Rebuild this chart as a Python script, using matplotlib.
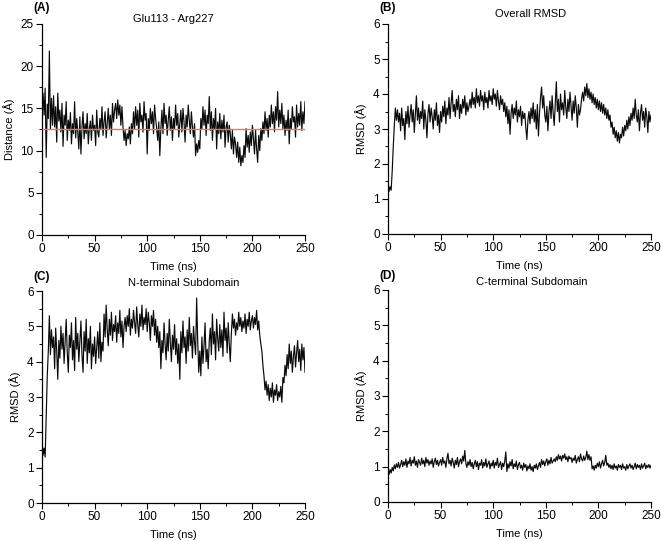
import numpy as np
import matplotlib
matplotlib.use("Agg")
import matplotlib.pyplot as plt
from matplotlib.ticker import MultipleLocator

plt.rcParams['font.family'] = ['Liberation Sans', 'DejaVu Sans']

W, H = 661, 541

# tiempo (ns), una lectura por ns
time_ns = list(range(0, 251))

# (A) distancia Glu113 - Arg227 (Å)
dist_glu_arg = [
    15.0, 16.8, 14.2, 17.4, 9.2, 15.5, 13.8, 21.8, 12.5, 16.2,
    13.0, 16.5, 12.8, 15.2, 11.0, 16.8, 13.5, 14.8, 12.2, 15.6,
    10.5, 14.2, 13.0, 15.8, 11.2, 13.6, 12.4, 14.5, 10.8, 13.2,
    12.0, 15.8, 11.5, 13.8, 12.2, 10.2, 14.0, 9.6, 12.8, 14.6,
    11.4, 13.2, 12.0, 14.4, 10.8, 12.6, 13.5, 11.2, 14.2, 12.4,
    13.0, 10.6, 14.8, 12.2, 11.6, 13.8, 12.5, 15.2, 11.8, 13.4,
    14.6, 11.5, 13.2, 15.0, 12.6, 14.2, 11.8, 15.6, 13.4, 14.8,
    15.6, 13.8, 16.0, 14.2, 15.4, 13.0, 15.2, 12.8, 11.2, 12.4,
    10.6, 12.0, 11.4, 12.8, 10.8, 13.2, 12.0, 14.6, 12.6, 15.2,
    13.0, 14.8, 11.6, 15.6, 13.4, 14.2, 12.2, 15.8, 13.6, 14.4,
    9.6, 13.8, 12.4, 15.0, 13.2, 14.6, 12.0, 15.4, 13.8, 12.6,
    11.2, 13.4, 9.4, 12.6, 14.8, 12.0, 15.6, 13.2, 14.2, 11.8,
    13.6, 15.2, 12.4, 14.0, 11.2, 13.8, 12.6, 15.4, 13.0, 14.4,
    11.6, 13.2, 14.8, 12.2, 15.0, 13.4, 11.0, 14.2, 12.8, 15.4,
    13.6, 12.0, 14.6, 12.8, 11.6, 13.2, 9.4, 10.8, 9.8, 11.2,
    10.2, 13.8, 12.6, 15.2, 13.0, 14.8, 11.8, 14.2, 13.2, 16.4,
    12.4, 14.6, 11.2, 13.8, 12.6, 15.0, 10.2, 13.4, 12.0, 14.4,
    11.4, 13.6, 12.2, 14.2, 10.4, 12.8, 13.4, 11.0, 13.0, 12.0,
    10.2, 12.4, 9.6, 11.6, 10.8, 9.2, 11.0, 8.6, 10.4, 8.2,
    9.4, 8.6, 10.6, 9.2, 12.6, 10.4, 11.8, 9.8, 12.2, 10.6,
    13.0, 11.4, 9.6, 12.4, 10.2, 8.6, 11.8, 10.0, 12.6, 11.2,
    13.4, 12.0, 14.6, 12.4, 13.8, 11.6, 14.2, 12.8, 15.4, 13.2,
    14.6, 12.2, 15.2, 13.6, 17.0, 12.8, 14.8, 13.2, 15.6, 12.6,
    14.2, 11.8, 13.6, 12.4, 14.8, 10.8, 13.8, 12.6, 15.2, 13.4,
    14.0, 11.6, 15.4, 12.8, 14.4, 13.0, 15.8, 12.4, 14.6, 13.2,
    15.8,
]
dist_mean = 12.5

# (B) RMSD global (Å)
rmsd_overall = [
    1.50, 1.22, 1.35, 1.25, 1.80, 2.50, 3.10, 3.60, 3.25, 3.55,
    3.20, 3.45, 2.95, 3.60, 3.10, 3.30, 2.70, 3.50, 3.15, 3.65,
    3.05, 3.40, 3.70, 3.20, 3.55, 2.90, 3.45, 3.95, 3.25, 3.60,
    3.15, 3.50, 3.30, 3.80, 3.00, 3.55, 3.25, 2.75, 3.45, 3.70,
    3.20, 3.60, 3.35, 3.00, 3.55, 3.25, 3.75, 3.10, 3.40, 2.90,
    3.50, 3.20, 3.65, 3.35, 3.80, 3.15, 3.60, 3.40, 3.90, 3.30,
    3.75, 4.10, 3.50, 3.70, 3.35, 3.85, 3.55, 3.95, 3.30, 3.70,
    3.45, 3.85, 3.60, 3.95, 3.40, 3.75, 3.50, 3.65, 3.85, 3.60,
    4.05, 3.70, 3.90, 3.60, 4.15, 3.75, 3.95, 3.65, 4.10, 3.80,
    3.95, 3.55, 4.05, 3.75, 3.90, 3.60, 4.10, 3.80, 3.95, 3.70,
    4.15, 3.85, 4.00, 3.65, 4.10, 3.80, 3.55, 3.95, 3.70, 3.85,
    3.50, 3.75, 3.35, 3.65, 3.15, 3.55, 2.85, 3.45, 3.70, 3.30,
    3.60, 3.40, 3.80, 3.20, 3.55, 3.35, 3.65, 3.10, 3.50, 3.30,
    3.45, 3.05, 2.70, 3.25, 3.50, 3.15, 3.60, 3.30, 3.75, 3.20,
    3.55, 3.00, 3.70, 2.80, 3.45, 3.90, 4.20, 3.60, 3.95, 3.40,
    3.20, 3.65, 2.95, 3.50, 3.80, 3.30, 3.95, 3.45, 3.10, 3.70,
    4.35, 3.50, 3.85, 3.20, 4.00, 3.55, 3.75, 3.40, 4.10, 3.60,
    3.30, 3.85, 3.50, 4.05, 3.65, 3.25, 3.80, 3.45, 3.95, 3.60,
    3.05, 3.70, 3.40, 3.55, 3.85, 4.05, 3.80, 4.20, 3.95, 4.30,
    3.90, 4.15, 3.85, 4.05, 3.75, 4.00, 3.70, 3.90, 3.60, 3.85,
    3.55, 3.80, 3.50, 3.75, 3.45, 3.70, 3.40, 3.60, 3.30, 3.55,
    3.25, 3.40, 3.05, 3.20, 2.85, 3.05, 2.75, 2.95, 2.65, 2.90,
    2.60, 2.85, 2.75, 3.05, 2.80, 3.10, 2.95, 3.25, 3.00, 3.35,
    3.10, 3.45, 3.25, 3.60, 3.30, 3.85, 3.40, 3.20, 3.55, 2.95,
    3.45, 3.70, 3.25, 3.50, 3.05, 3.60, 3.35, 2.90, 3.50, 3.20,
    3.40,
]

# (C) RMSD subdominio N-terminal (Å)
rmsd_nterm = [
    1.80, 1.35, 1.55, 1.30, 2.40, 3.60, 4.30, 5.30, 4.20, 4.90,
    4.40, 4.70, 3.80, 4.95, 4.30, 3.50, 4.60, 4.10, 5.00, 4.35,
    4.80, 3.95, 4.55, 5.20, 4.25, 3.70, 4.75, 4.40, 5.10, 4.05,
    4.60, 3.75, 5.25, 4.35, 4.80, 4.00, 4.55, 5.15, 4.20, 3.70,
    4.85, 4.30, 5.20, 3.95, 4.65, 4.25, 5.00, 3.80, 4.50, 4.15,
    4.70, 3.95, 4.40, 4.85, 4.10, 5.10, 4.00, 4.55, 4.30, 5.35,
    4.70, 5.60, 4.90, 4.45, 5.20, 4.75, 5.40, 4.60, 5.05, 4.85,
    5.30, 4.55, 5.10, 4.80, 5.45, 4.70, 5.15, 4.40, 5.00, 5.25,
    4.85, 5.30, 5.00, 5.50, 4.75, 5.20, 4.95, 5.45, 5.10, 4.80,
    5.55, 5.05, 4.70, 5.35, 5.00, 5.60, 4.90, 5.25, 5.05, 5.50,
    4.85, 5.40, 5.10, 4.60, 5.30, 5.00, 5.45, 4.75, 5.20, 4.55,
    5.00, 4.40, 4.85, 3.80, 4.60, 4.25, 5.10, 4.50, 4.05, 4.80,
    4.30, 5.20, 4.55, 4.00, 4.75, 4.35, 5.05, 4.20, 4.65, 3.95,
    4.50, 3.50, 4.85, 4.25, 5.15, 4.40, 4.70, 3.95, 4.90, 4.30,
    5.25, 4.45, 4.80, 4.10, 5.00, 4.55, 4.20, 5.80, 4.60, 3.70,
    4.30, 3.60, 4.70, 3.95, 4.45, 5.10, 4.00, 4.35, 3.80, 4.60,
    4.95, 4.20, 5.35, 4.50, 4.85, 4.05, 5.20, 4.65, 4.30, 5.05,
    4.40, 4.90, 4.15, 5.40, 4.60, 4.95, 4.25, 5.10, 4.50, 4.00,
    4.80, 5.35, 4.95, 5.20, 4.75, 5.10, 4.90, 5.40, 5.00, 5.25,
    4.85, 5.15, 4.95, 5.35, 4.80, 5.20, 5.00, 5.40, 4.90, 5.15,
    5.30, 4.95, 5.25, 5.05, 5.45, 4.90, 5.15, 4.75, 4.50, 4.30,
    3.90, 3.60, 3.20, 3.45, 3.05, 3.35, 2.90, 3.25, 3.00, 3.40,
    2.85, 3.20, 3.05, 3.35, 2.90, 3.15, 3.00, 3.30, 2.85, 3.55,
    3.40, 3.90, 3.60, 4.20, 3.80, 4.50, 3.95, 4.30, 3.70, 4.15,
    4.45, 3.85, 4.25, 4.60, 4.00, 4.35, 3.75, 4.50, 4.05, 4.40,
    3.70,
]

# (D) RMSD subdominio C-terminal (Å)
rmsd_cterm = [
    0.85, 0.78, 0.92, 0.82, 0.98, 0.88, 1.05, 0.94, 1.08, 0.98,
    1.12, 0.96, 1.06, 1.18, 1.00, 1.14, 1.04, 1.22, 0.98, 1.16,
    1.08, 1.26, 1.02, 1.18, 1.10, 1.28, 1.04, 1.16, 0.98, 1.20,
    1.12, 1.04, 1.24, 1.08, 1.18, 1.00, 1.26, 1.10, 1.20, 1.04,
    1.16, 1.08, 1.22, 0.98, 1.14, 1.24, 1.06, 1.18, 1.02, 1.12,
    1.20, 1.04, 1.26, 1.10, 1.16, 0.98, 1.22, 1.38, 1.08, 1.18,
    1.02, 1.24, 1.12, 0.96, 1.18, 1.06, 1.26, 1.00, 1.14, 1.22,
    1.08, 1.30, 1.16, 1.46, 1.10, 0.98, 1.14, 1.04, 1.20, 1.00,
    1.12, 0.94, 1.08, 1.18, 1.00, 1.14, 0.92, 1.10, 1.04, 1.20,
    0.96, 1.12, 1.02, 1.22, 0.98, 1.08, 1.16, 0.94, 1.10, 1.02,
    1.18, 0.96, 1.12, 1.04, 1.24, 0.98, 1.06, 1.14, 0.92, 1.10,
    1.00, 1.16, 1.42, 0.86, 1.08, 0.96, 1.14, 1.02, 1.20, 0.94,
    1.08, 1.00, 1.16, 0.92, 1.06, 1.12, 0.96, 1.04, 0.90, 1.10,
    0.98, 1.06, 0.88, 1.02, 0.94, 1.08, 0.90, 1.00, 0.86, 1.04,
    0.96, 1.08, 0.92, 1.02, 1.12, 0.98, 1.20, 1.06, 1.16, 1.02,
    1.14, 1.22, 1.04, 1.18, 1.08, 1.26, 1.10, 1.16, 1.22, 1.14,
    1.28, 1.18, 1.34, 1.22, 1.30, 1.16, 1.32, 1.24, 1.36, 1.20,
    1.28, 1.14, 1.30, 1.22, 1.26, 1.12, 1.24, 1.18, 1.32, 1.10,
    1.20, 1.28, 1.14, 1.36, 1.22, 1.16, 1.30, 1.18, 1.26, 1.44,
    1.20, 1.34, 1.18, 1.28, 0.94, 1.02, 0.90, 1.04, 0.96, 1.10,
    1.00, 1.14, 0.96, 1.08, 1.18, 1.02, 1.12, 1.32, 1.04, 1.10,
    0.98, 1.06, 0.94, 1.04, 0.92, 1.08, 0.96, 1.02, 0.90, 1.06,
    0.98, 1.04, 0.92, 1.08, 0.96, 1.00, 0.90, 1.06, 0.94, 1.02,
    1.08, 0.96, 1.04, 0.92, 1.00, 1.10, 0.94, 1.06, 0.98, 1.04,
    0.92, 1.08, 0.96, 1.02, 1.10, 0.94, 1.04, 0.98, 1.06, 0.96,
    1.04,
]


def px_box(left, top, right, bottom):
    # caja de ejes en pixeles -> fracciones de figura
    return [left / W, 1 - bottom / H, (right - left) / W, (bottom - top) / H]


def fig_txt(x, y, s, **kw):
    fig.text(x / W, 1 - y / H, s, **kw)


def style_axes(ax, ymax, ymajor, yminor, ylabel):
    ax.set_xlim(0, 250)
    ax.set_ylim(0, ymax)
    ax.xaxis.set_major_locator(MultipleLocator(50))
    ax.xaxis.set_minor_locator(MultipleLocator(25))
    ax.yaxis.set_major_locator(MultipleLocator(ymajor))
    ax.yaxis.set_minor_locator(MultipleLocator(yminor))
    for side in ('top', 'right'):
        ax.spines[side].set_visible(False)
    for side in ('left', 'bottom'):
        ax.spines[side].set_linewidth(0.9)
    ax.tick_params(which='major', direction='out', length=4, width=0.8,
                   labelsize=8.5, pad=2)
    ax.tick_params(which='minor', direction='out', length=2, width=0.7)
    ax.set_xlabel('Time (ns)', fontsize=8, labelpad=5)
    ax.set_ylabel(ylabel, fontsize=8, labelpad=4)


fig = plt.figure(figsize=(W / 100, H / 100), dpi=100)

axA = fig.add_axes(px_box(42, 24, 305, 235))
axB = fig.add_axes(px_box(388, 24, 651, 234))
axC = fig.add_axes(px_box(42, 291, 305, 503))
axD = fig.add_axes(px_box(388, 290, 651, 502))

trace = dict(color='#0a0a0a', lw=0.85)

axA.plot(time_ns, dist_glu_arg, **trace)
axA.hlines(dist_mean, 0, 250, color='#f07070', lw=1.0, zorder=3)
style_axes(axA, 25, 5, 2.5, 'Distance (Å)')

axB.plot(time_ns, rmsd_overall, **trace)
style_axes(axB, 6, 1, 0.5, 'RMSD (Å)')

axC.plot(time_ns, rmsd_nterm, **trace)
style_axes(axC, 6, 1, 0.5, 'RMSD (Å)')

axD.plot(time_ns, rmsd_cterm, **trace)
style_axes(axD, 6, 1, 0.5, 'RMSD (Å)')

# titulos y etiquetas de panel
fig_txt(173, 19, 'Glu113 - Arg227', fontsize=8, ha='center', va='center')
fig_txt(531, 14, 'Overall RMSD', fontsize=8, ha='center', va='center')
fig_txt(184, 283, 'N-terminal Subdomain', fontsize=8, ha='center', va='center')
fig_txt(532, 282, 'C-terminal Subdomain', fontsize=8, ha='center', va='center')

fig_txt(33, 8, '(A)', fontsize=8.5, fontweight='bold', va='center')
fig_txt(379, 8, '(B)', fontsize=8.5, fontweight='bold', va='center')
fig_txt(33, 277, '(C)', fontsize=8.5, fontweight='bold', va='center')
fig_txt(379, 276, '(D)', fontsize=8.5, fontweight='bold', va='center')

fig.savefig('out.png', dpi=100)
